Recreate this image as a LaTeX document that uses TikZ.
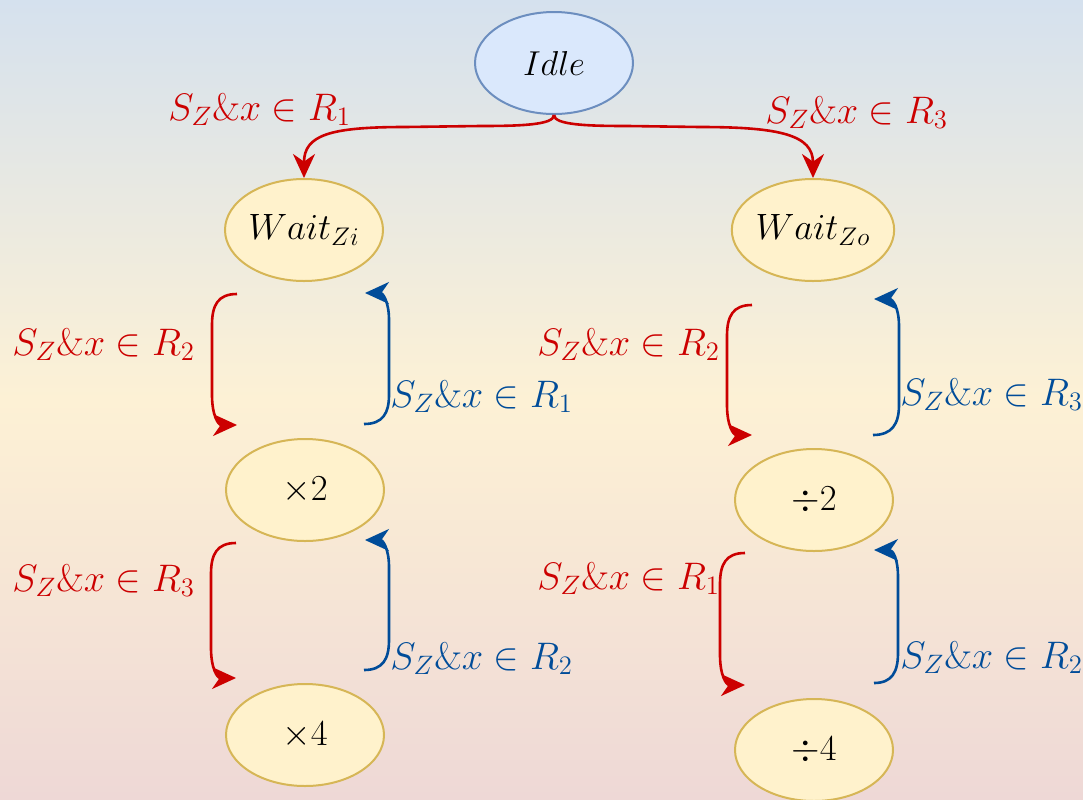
\documentclass[tikz,border=0pt]{standalone}
\usepackage{graphicx}
\usetikzlibrary{shapes.geometric,arrows.meta}
\definecolor{bgtop}{HTML}{D5E1EE}
\definecolor{bgmid}{HTML}{FDF1D5}
\definecolor{bgbot}{HTML}{EED8D6}
\definecolor{redc}{HTML}{CC0000}
\definecolor{bluec}{HTML}{004C99}
\definecolor{idlefill}{HTML}{DAE8FC}
\definecolor{idledraw}{HTML}{6C8EBF}
\definecolor{yfill}{HTML}{FFF2CC}
\definecolor{ydraw}{HTML}{D6B656}
\newcommand\mylab[1]{\scalebox{1.11}{$S_Z\&x\in R_{#1}$}}
\newcommand\mystate[1]{\scalebox{1.06}{$#1$}}
\begin{document}
\begin{tikzpicture}[x=0.5pt,y=-0.5pt,
  state/.style={ellipse, draw=ydraw, fill=yfill, line width=1pt, minimum width=79pt, minimum height=51pt, inner sep=0pt, font=\fontsize{17.28}{21}\selectfont},
  idlestate/.style={state, draw=idledraw, fill=idlefill},
  redarr/.style={draw=redc, line width=1.3pt, -{Stealth[length=12pt,width=11pt,inset=3.8pt]}},
  bluearr/.style={redarr, draw=bluec},
  lbl/.style={anchor=base west, inner sep=0pt, font=\fontsize{17.28}{21}\selectfont},
  redlbl/.style={lbl, text=redc},
  bluelbl/.style={lbl, text=bluec}]
\shade[top color=bgtop, bottom color=bgbot, middle color=bgmid] (0,0) rectangle (1083,799);
\useasboundingbox (0,0) rectangle (1083,799);

% states
\node[idlestate] (idle) at (554,63) {$Idle$};
\node[state] (wzi) at (304,230) {\mystate{Wait_{Zi}}};
\node[state] (wzo) at (813,230) {\mystate{Wait_{Zo}}};
\node[state] (m2) at (305,490) {\mystate{\times 2}};
\node[state] (d2) at (814,500) {\mystate{\div 2}};
\node[state] (m4) at (305,735) {\mystate{\times 4}};
\node[state] (d4) at (814,750) {\mystate{\div 4}};

% top transitions
\draw[redarr] (idle.south) .. controls +(0,10) and +(40,0) .. (480,126) -- (405,127)
  .. controls (330,127) and (304,135) .. (wzi.north);
\draw[redarr] (idle.south) .. controls +(0,10) and +(-40,0) .. (628,126) -- (700,127)
  .. controls (780,127) and (813,135) .. (wzo.north);

% free-end coordinates of bracket arrows
\coordinate (ra1) at (237,294); \coordinate (ra2) at (237,425);
\coordinate (ba1) at (364,424); \coordinate (ba2) at (365,293);
\coordinate (rb1) at (752,305); \coordinate (rb2) at (752,435);
\coordinate (bb1) at (873,435); \coordinate (bb2) at (874,299);
\coordinate (rc1) at (236,543); \coordinate (rc2) at (236,678);
\coordinate (bc1) at (364,670); \coordinate (bc2) at (365,540);
\coordinate (rd1) at (745,553); \coordinate (rd2) at (745,685);
\coordinate (bd1) at (874,683); \coordinate (bd2) at (874,550);

% left upper pair
\draw[redarr] (ra1) .. controls (218,294) and (212,305) .. (212,325) -- (212,395)
  .. controls (212,415) and (218,425) .. (ra2);
\draw[bluearr] (ba1) .. controls (383,424) and (389,413) .. (389,395) -- (389,320)
  .. controls (389,302) and (383,293) .. (ba2);
% right upper pair
\draw[redarr] (rb1) .. controls (733,305) and (727,316) .. (727,336) -- (727,405)
  .. controls (727,425) and (733,435) .. (rb2);
\draw[bluearr] (bb1) .. controls (892,435) and (899,424) .. (899,405) -- (899,326)
  .. controls (899,308) and (893,299) .. (bb2);
% left lower pair
\draw[redarr] (rc1) .. controls (217,543) and (211,554) .. (211,574) -- (211,648)
  .. controls (211,668) and (217,678) .. (rc2);
\draw[bluearr] (bc1) .. controls (383,670) and (389,659) .. (389,640) -- (389,567)
  .. controls (389,549) and (383,540) .. (bc2);
% right lower pair
\draw[redarr] (rd1) .. controls (726,553) and (720,564) .. (720,584) -- (720,655)
  .. controls (720,675) and (726,685) .. (rd2);
\draw[bluearr] (bd1) .. controls (892,683) and (898,672) .. (898,653) -- (898,577)
  .. controls (898,559) and (893,550) .. (bd2);

% labels
\node[redlbl] (l1) at (168,120) {\mylab{1}};
\node[redlbl] (l2) at (765,123) {\mylab{3}};
\node[redlbl] (l3) at (12,355) {\mylab{2}};
\node[bluelbl] (l4) at (390,407) {\mylab{1}};
\node[redlbl] (l5) at (537,355) {\mylab{2}};
\node[bluelbl] (l6) at (900,405) {\mylab{3}};
\node[redlbl] (l7) at (12,591) {\mylab{3}};
\node[bluelbl] (l8) at (390,669) {\mylab{2}};
\node[redlbl] (l9) at (537,589) {\mylab{1}};
\node[bluelbl] (l10) at (900,668) {\mylab{2}};
\end{tikzpicture}
\end{document}
